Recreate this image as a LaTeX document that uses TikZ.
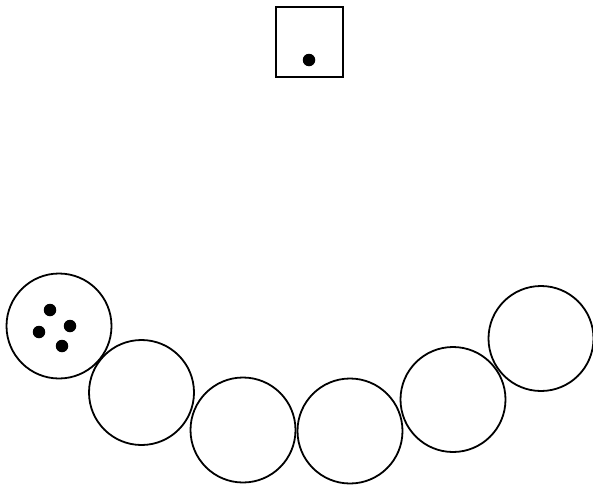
\documentclass[tikz,border=0pt]{standalone}
\begin{document}
\begin{tikzpicture}[x=1pt,y=-1pt,
  ring/.style={draw=black,line width=1.8pt,circle,minimum size=105pt,inner sep=0pt},
  box/.style={draw=black,line width=1.8pt,rectangle,minimum width=67pt,minimum height=70pt,inner sep=0pt},
  pip/.style={fill=black,circle,minimum size=12.5pt,inner sep=0pt}]
\useasboundingbox (0,0) rectangle (593,490);
\node[box] (sq) at (309.5,42) {};
\node[pip] (sqdot) at (309,60) {};
\node[ring] (c1) at (59,326) {};
\node[ring] (c2) at (141.5,392.5) {};
\node[ring] (c3) at (243,430) {};
\node[ring] (c4) at (350,431) {};
\node[ring] (c5) at (453,399.5) {};
\node[ring] (c6) at (541,338.5) {};
\node[pip] (d1) at (50,310) {};
\node[pip] (d2) at (70,326) {};
\node[pip] (d3) at (39,332) {};
\node[pip] (d4) at (62,346) {};
\end{tikzpicture}
\end{document}
